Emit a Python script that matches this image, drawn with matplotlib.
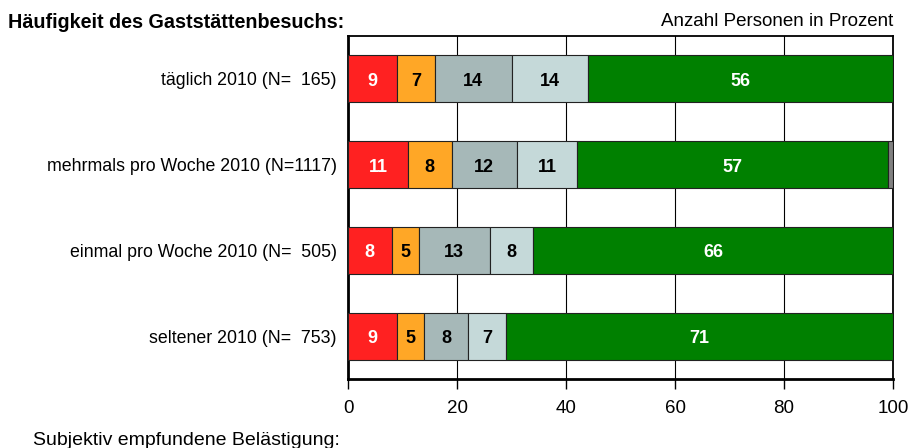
import matplotlib
matplotlib.use('Agg')
import matplotlib.pyplot as plt

plt.rcParams['font.family'] = ['Liberation Sans', 'DejaVu Sans']

categories = ['täglich 2010 (N=  165)',
              'mehrmals pro Woche 2010 (N=1117)',
              'einmal pro Woche 2010 (N=  505)',
              'seltener 2010 (N=  753)']

# Segmente je Kategorie (Prozent)
seg_red = [9, 11, 8, 9]
seg_orange = [7, 8, 5, 5]
seg_grey = [14, 12, 13, 8]
seg_light = [14, 11, 8, 7]
seg_green = [56, 57, 66, 71]
seg_rest = [0, 1, 0, 0]

series = [
    (seg_red, '#FF2121', 'white', True),
    (seg_orange, '#FFA726', 'black', True),
    (seg_grey, '#A6B8B8', 'black', True),
    (seg_light, '#C5D9D9', 'black', True),
    (seg_green, '#008000', 'white', True),
    (seg_rest, '#808080', 'black', False),
]

fig = plt.figure(figsize=(9.11, 4.48), dpi=100)
fig.patch.set_facecolor('white')
ax = fig.add_axes([348 / 911, 1 - 379 / 448, 545 / 911, 343 / 448])

ypos = list(range(len(categories)))
left = [0] * len(categories)
for vals, color, tcol, show in series:
    ax.barh(ypos, vals, left=left, height=0.55, color=color,
            edgecolor='#222222', linewidth=0.8, zorder=3)
    if show:
        for y, l, v in zip(ypos, left, vals):
            if v > 0:
                ax.text(l + v / 2, y + 0.03, str(v), ha='center', va='center',
                        fontsize=13, fontweight='bold', color=tcol, zorder=4)
    left = [a + b for a, b in zip(left, vals)]

ax.set_xlim(0, 100)
ax.set_ylim(3.5, -0.5)
ax.set_xticks([0, 20, 40, 60, 80, 100])
ax.tick_params(axis='x', length=7, width=1, labelsize=13.5, pad=8, direction='out')
ax.set_yticks(ypos)
ax.set_yticklabels(categories, fontsize=12.8)
ax.tick_params(axis='y', length=0, pad=8)
ax.grid(axis='x', color='black', linewidth=0.8, zorder=0)
for sp in ax.spines.values():
    sp.set_linewidth(1.3)
    sp.set_color('black')
ax.spines['bottom'].set_linewidth(2)
ax.spines['left'].set_linewidth(2)

fig.text(8 / 911, 1 - 22 / 448, 'Häufigkeit des Gaststättenbesuchs:',
         fontsize=14.2, fontweight='bold', ha='left', va='center')
fig.text(893 / 911, 1 - 22 / 448, 'Anzahl Personen in Prozent',
         fontsize=13.5, ha='right', va='center')
fig.text(33 / 911, 1 - 440 / 448, 'Subjektiv empfundene Belästigung:',
         fontsize=14, ha='left', va='center')

fig.savefig('out.png', dpi=100, facecolor='white')
